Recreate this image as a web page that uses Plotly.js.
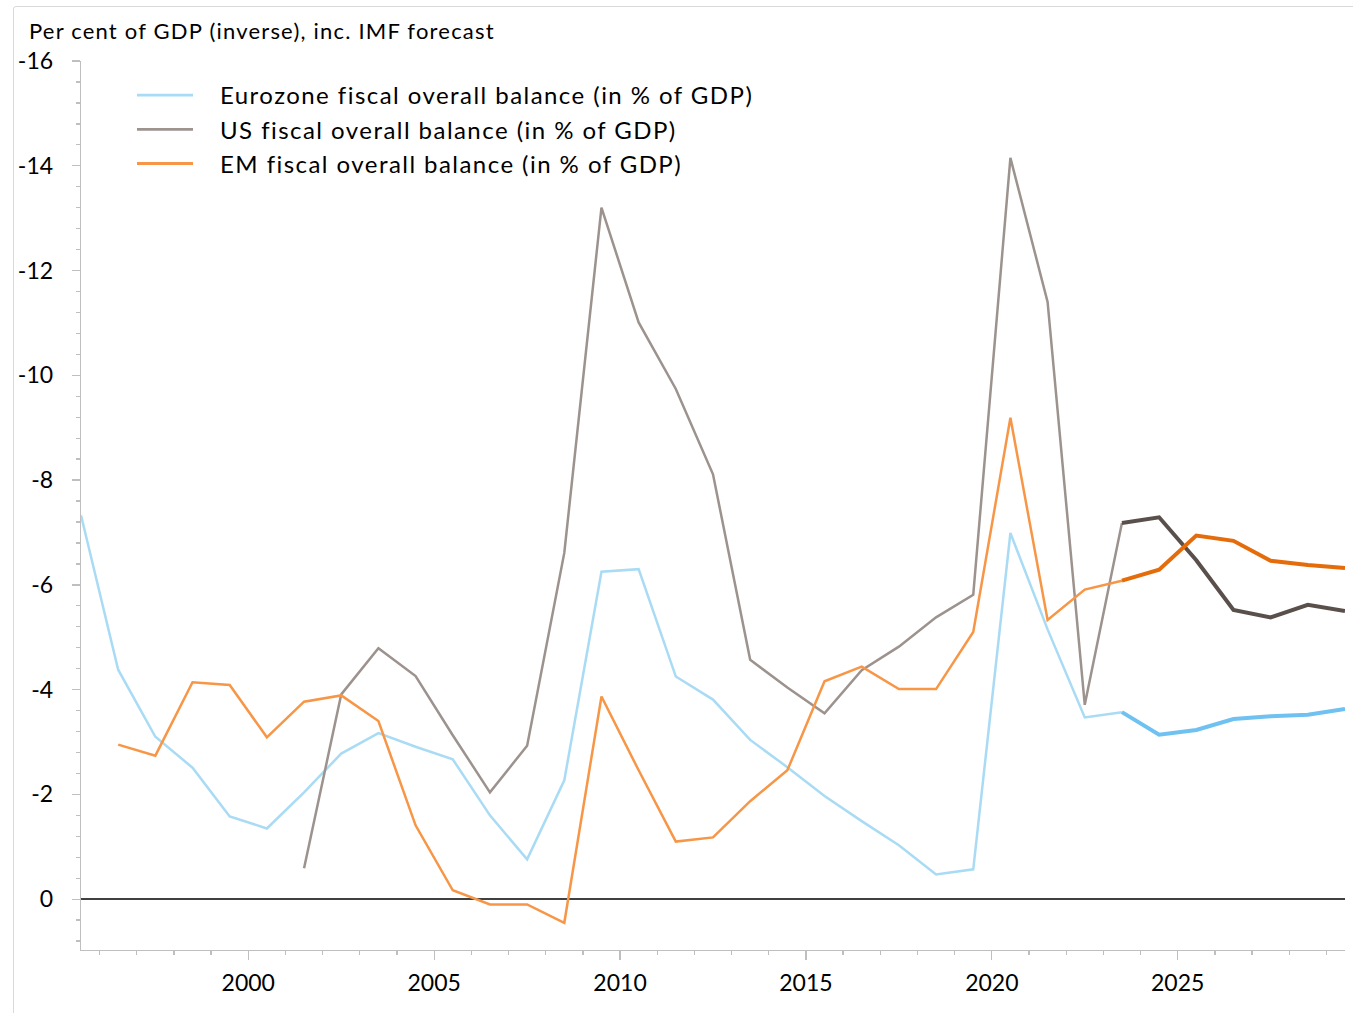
<!DOCTYPE html>
<html>
<head>
<meta charset="utf-8">
<script src="https://cdn.plot.ly/plotly-3.0.1.min.js"></script>
<style>
html,body{margin:0;padding:0;background:#fff;overflow:hidden}
#chart{width:1353px;height:1013px;position:absolute;left:0;top:0}
#frame{position:absolute;left:13px;top:6px;width:1400px;height:1100px;border:1px solid #d9d9d9;border-radius:3px;pointer-events:none}
#chart .legendtext{letter-spacing:1.45px}
#chart .gtitle{letter-spacing:1.2px}
</style>
</head>
<body>
<div id="chart"></div>
<div id="frame"></div>
<script>
// Years (annual data, plotted at mid-year)
const years = [1995,1996,1997,1998,1999,2000,2001,2002,2003,2004,2005,2006,2007,2008,2009,2010,2011,2012,2013,2014,2015,2016,2017,2018,2019,2020,2021,2022,2023,2024,2025,2026,2027,2028,2029];

// Historical values (1995-2023), per cent of GDP
const eurozoneHist = [-7.33,-4.38,-3.10,-2.51,-1.58,-1.35,-2.04,-2.78,-3.17,-2.91,-2.67,-1.60,-0.76,-2.27,-6.25,-6.30,-4.25,-3.81,-3.04,-2.52,-1.97,-1.49,-1.03,-0.47,-0.57,-6.99,-5.15,-3.47,-3.57,null,null,null,null,null,null];
const usHist = [null,null,null,null,null,null,-0.59,-3.91,-4.79,-4.26,-3.13,-2.04,-2.93,-6.61,-13.2,-11.01,-9.74,-8.11,-4.57,-4.04,-3.55,-4.37,-4.82,-5.38,-5.81,-14.15,-11.40,-3.71,-7.18,null,null,null,null,null,null];
const emHist = [null,-2.95,-2.74,-4.14,-4.09,-3.09,-3.77,-3.89,-3.40,-1.41,-0.17,0.10,0.10,0.45,-3.87,-2.46,-1.10,-1.18,-1.87,-2.46,-4.16,-4.44,-4.01,-4.01,-5.10,-9.19,-5.33,-5.91,-6.08,null,null,null,null,null,null];

// IMF forecast values (2023-2029)
const eurozoneFcst = [null,null,null,null,null,null,null,null,null,null,null,null,null,null,null,null,null,null,null,null,null,null,null,null,null,null,null,null,-3.57,-3.14,-3.23,-3.44,-3.49,-3.52,-3.63];
const usFcst = [null,null,null,null,null,null,null,null,null,null,null,null,null,null,null,null,null,null,null,null,null,null,null,null,null,null,null,null,-7.18,-7.29,-6.47,-5.52,-5.38,-5.62,-5.50];
const emFcst = [null,null,null,null,null,null,null,null,null,null,null,null,null,null,null,null,null,null,null,null,null,null,null,null,null,null,null,null,-6.08,-6.29,-6.94,-6.84,-6.46,-6.38,-6.32];

// Tick labels
const xTickVals = [2000,2005,2010,2015,2020,2025];
const xTickText = ['2000','2005','2010','2015','2020','2025'];
const yTickVals = [-16,-14,-12,-10,-8,-6,-4,-2,0];
const yTickText = ['-16','-14','-12','-10','-8','-6','-4','-2','0'];

const seriesNames = ['Eurozone fiscal overall balance (in % of GDP)','US fiscal overall balance (in % of GDP)','EM fiscal overall balance (in % of GDP)'];

const xMid = years.map(y => y + 0.5);
const FONT = 'Lato, "Open Sans", sans-serif';

const traces = [
  {x:xMid, y:eurozoneHist, name:seriesNames[0], mode:'lines', line:{color:'#a9dbf5', width:2.5}},
  {x:xMid, y:usHist, name:seriesNames[1], mode:'lines', line:{color:'#9c928e', width:2.5}},
  {x:xMid, y:emHist, name:seriesNames[2], mode:'lines', line:{color:'#f79646', width:2.5}},
  {x:xMid, y:eurozoneFcst, name:seriesNames[0]+' forecast', showlegend:false, mode:'lines', line:{color:'#6fc1f1', width:4}},
  {x:xMid, y:usFcst, name:seriesNames[1]+' forecast', showlegend:false, mode:'lines', line:{color:'#59504c', width:4}},
  {x:xMid, y:emFcst, name:seriesNames[2]+' forecast', showlegend:false, mode:'lines', line:{color:'#e46c0a', width:4}}
];

const layout = {
  width:1353, height:1013,
  margin:{l:81, r:8, t:61, b:63},
  paper_bgcolor:'#ffffff', plot_bgcolor:'#ffffff',
  font:{family:FONT, color:'#000000', size:23},
  title:{text:'Per cent of GDP (inverse), inc. IMF forecast', x:29/1353, xanchor:'left', xref:'container', y:1-31/1013, yanchor:'middle', yref:'container', font:{family:FONT, size:22, color:'#000000'}},
  showlegend:true,
  legend:{x:(132-81)/1264, xanchor:'left', y:1-(73-61)/889, yanchor:'top', bgcolor:'rgba(0,0,0,0)', borderwidth:0, font:{family:FONT, size:24, color:'#000000'}, itemwidth:78, tracegroupgap:0},
  xaxis:{
    range:[1995.5, 2029.5], tickmode:'array', tickvals:xTickVals, ticktext:xTickText,
    ticks:'outside', ticklen:9, tickwidth:1.3, tickcolor:'#bfbfbf',
    showline:true, linecolor:'#bfbfbf', linewidth:1.3, showgrid:false, zeroline:false,
    minor:{tickmode:'linear', tick0:1995, dtick:1, ticks:'outside', ticklen:4, tickwidth:1.3, tickcolor:'#bfbfbf', showgrid:false},
    tickfont:{family:FONT, size:23, color:'#000000'}, ticklabelstandoff:3, automargin:false, fixedrange:true
  },
  yaxis:{
    range:[0.97, -16], tickmode:'array', tickvals:yTickVals, ticktext:yTickText,
    ticks:'outside', ticklen:8, tickwidth:1.3, tickcolor:'#bfbfbf',
    showline:true, linecolor:'#bfbfbf', linewidth:1.3, showgrid:false,
    zeroline:true, zerolinecolor:'#404040', zerolinewidth:1.6,
    minor:{tickmode:'linear', tick0:0, dtick:0.4, ticks:'outside', ticklen:4, tickwidth:1.3, tickcolor:'#bfbfbf', showgrid:false},
    tickfont:{family:FONT, size:23, color:'#000000'}, ticklabelstandoff:14, automargin:false, fixedrange:true
  }
};

Plotly.newPlot('chart', traces, layout, {displayModeBar:false, staticPlot:true}).then(function(gd){
  // shorten legend line samples to match the reference swatch length
  gd.querySelectorAll('.legend .legendlines path').forEach(function(p){ p.setAttribute('d','M5,0h56'); p.style.strokeWidth = '2.8px'; });
  // letter-spaced legend text is wider than Plotly measured: drop the legend clip
  gd.querySelectorAll('.legend [clip-path]').forEach(function(e){ e.removeAttribute('clip-path'); });
  var lg = gd.querySelector('.legend');
  if (lg) lg.removeAttribute('clip-path');
});
</script>
</body>
</html>
